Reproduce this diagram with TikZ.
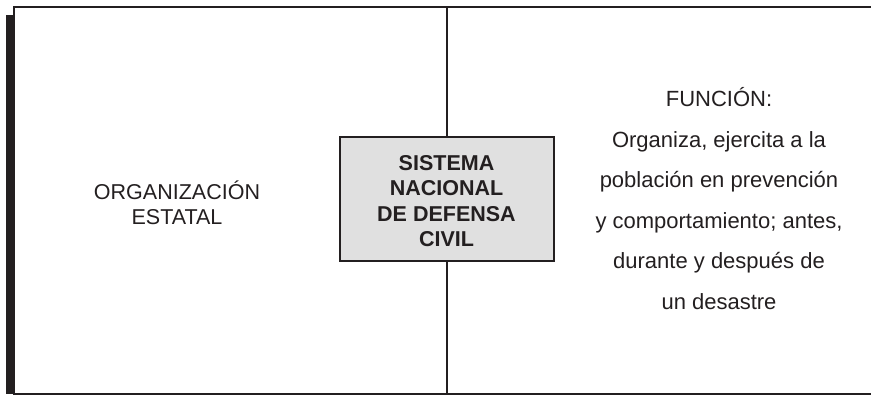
\documentclass[tikz,border=0pt]{standalone}
\usepackage{fontspec}
\setmainfont{Liberation Sans}
\usepackage{tikz}

\definecolor{tinta}{HTML}{231F20}
\definecolor{gris}{HTML}{E0E0E0}

\begin{document}
\begin{tikzpicture}[x=1pt,y=-1pt,
	texto/.style={text=tinta, align=center, inner sep=0pt},
	caja/.style={draw=tinta, fill=gris, line width=2pt, minimum width=214pt, minimum height=124pt, inner sep=0pt}]

	\useasboundingbox (0,0) rectangle (871,396);

	\coordinate (sup) at (446.5,7.5);
	\coordinate (inf) at (446.5,394);

	% marco
	\fill[tinta] (6,15) rectangle (14,394);
	\draw[tinta, line width=2pt] (871,7.5) -- (14.2,7.5) -- (14.2,394) -- (871,394);

	\node[caja] (sinadeci) at (446.5,199) {};
	\node[texto, font=\bfseries\fontsize{21.5}{25.6}\selectfont] (nombre) at (446.5,201) {SISTEMA\\NACIONAL\\DE DEFENSA\\CIVIL};

	\draw[tinta, line width=2pt] (sup) -- (sinadeci.north);
	\draw[tinta, line width=2pt] (sinadeci.south) -- (inf);

	\node[texto, font=\fontsize{21.5}{25}\selectfont] (organizacion) at (177,203) {ORGANIZACIÓN\\ESTATAL};
	\node[texto, font=\fontsize{22}{40.6}\selectfont] (funcion) at (719,198.5) {FUNCIÓN:\\Organiza, ejercita a la\\población en prevención\\y comportamiento; antes,\\durante y después de\\un desastre};

\end{tikzpicture}
\end{document}
